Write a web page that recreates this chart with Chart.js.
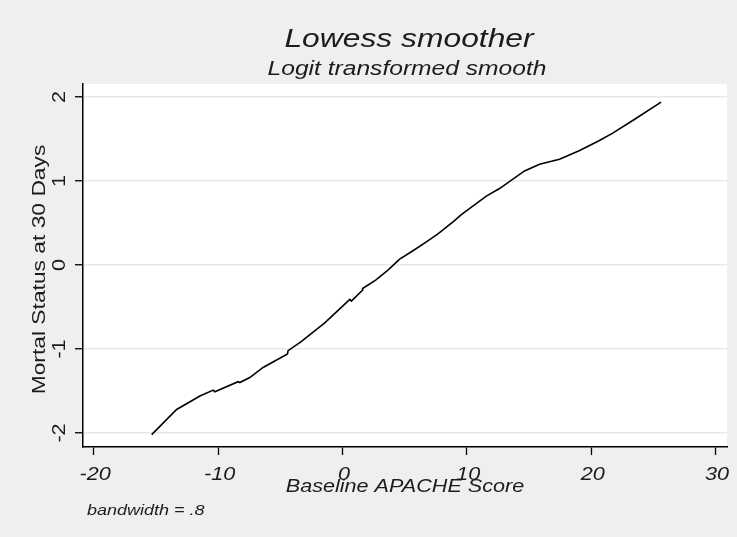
<!DOCTYPE html>
<html>
<head>
<meta charset="utf-8">
<script src="https://cdn.jsdelivr.net/npm/chart.js@4.4.1/dist/chart.umd.min.js"></script>
<style>
  html, body { margin: 0; padding: 0; background: #efefef; }
  #wrap { width: 737px; height: 537px; }
</style>
</head>
<body>
<div id="wrap"><canvas id="myChart" width="737" height="537"></canvas></div>
<script>
// values
const apacheScore = [-15.34, -13.33, -11.46, -10.39, -10.26, -8.39, -8.25, -7.45, -6.38, -4.42, -4.37,
    -3.29, -2.36, -1.42, -0.35, 0.59, 0.72, 1.61, 1.62, 2.67, 3.66, 4.60, 5.67, 6.69, 7.68, 8.94,
    9.56, 11.57, 12.63, 14.64, 15.85, 17.45, 19.03, 20.63, 21.73, 23.34, 25.62];
const mortalLogit = [-2.02, -1.72, -1.56, -1.49, -1.51, -1.39, -1.40, -1.34, -1.22, -1.06, -1.02,
    -0.91, -0.80, -0.69, -0.54, -0.41, -0.43, -0.30, -0.28, -0.18, -0.06, 0.07, 0.17, 0.27, 0.37, 0.52,
    0.60, 0.82, 0.91, 1.12, 1.20, 1.26, 1.36, 1.48, 1.57, 1.72, 1.94];
const xTicks = [-20, -10, 0, 10, 20, 30];
const yTicks = [-2, -1, 0, 1, 2];

const fontFamily = '"Liberation Sans", Arial, sans-serif';
const textColor = '#1c1c1c';
// the original's font is wider than Arial, so text is stretched a bit sideways
const stretch = 1.2;

function wideText(ctx, text, x, y, font, align, angle) {
    ctx.save();
    ctx.translate(x, y);
    if (angle) ctx.rotate(angle);
    ctx.scale(stretch, 1);
    ctx.font = font;
    ctx.fillStyle = textColor;
    ctx.textAlign = align || 'center';
    ctx.textBaseline = 'alphabetic';
    ctx.fillText(text, 0, 0);
    ctx.restore();
}

const stataText = {
    id: 'stataText',
    beforeDraw(chart) {
        const {ctx, chartArea} = chart;
        ctx.save();
        ctx.fillStyle = '#efefef';
        ctx.fillRect(0, 0, chart.width, chart.height);
        ctx.fillStyle = '#ffffff';
        ctx.fillRect(chartArea.left, chartArea.top, chartArea.right - chartArea.left, chartArea.bottom - chartArea.top);
        ctx.restore();
    },
    afterDraw(chart) {
        const {ctx, chartArea} = chart;
        const cx = (chartArea.left + chartArea.right) / 2;

        wideText(ctx, 'Lowess smoother', cx + 4, 47, 'italic 26.5px ' + fontFamily);
        wideText(ctx, 'Logit transformed smooth', cx + 2, 75, 'italic 20.5px ' + fontFamily);

        const xScale = chart.scales.x;
        xScale.ticks.forEach(t => {
            wideText(ctx, String(t.value), xScale.getPixelForValue(t.value) + 1.5, 480, 'italic 18px ' + fontFamily);
        });
        wideText(ctx, 'Baseline APACHE Score', cx, 492, 'italic 18px ' + fontFamily);

        const yScale = chart.scales.y;
        yScale.ticks.forEach(t => {
            wideText(ctx, String(t.value), 65, yScale.getPixelForValue(t.value), '18px ' + fontFamily, 'center', -Math.PI / 2);
        });
        wideText(ctx, 'Mortal Status at 30 Days', 45, (chartArea.top + chartArea.bottom) / 2 + 4, '19px ' + fontFamily, 'center', -Math.PI / 2);

        wideText(ctx, 'bandwidth = .8', 87, 515, 'italic 15px ' + fontFamily, 'left');
    }
};

const ctx = document.getElementById('myChart').getContext('2d');
const myChart = new Chart(ctx, {
    type: 'line',
    data: {
        datasets: [{
            data: apacheScore.map((x, i) => ({x: x, y: mortalLogit[i]})),
            borderColor: '#000',
            borderWidth: 1.6,
            pointRadius: 0,
            fill: false,
            tension: 0
        }]
    },
    options: {
        responsive: false,
        animation: false,
        layout: {
            padding: {top: 84, right: 10, bottom: 0, left: 0}
        },
        plugins: {
            legend: {display: false},
            tooltip: {enabled: false}
        },
        scales: {
            x: {
                type: 'linear',
                min: -20.86,
                max: 30.92,
                afterBuildTicks: s => { s.ticks = xTicks.map(v => ({value: v})); },
                afterFit: s => { s.height = 90; },
                grid: {
                    drawOnChartArea: false,
                    tickLength: 8,
                    tickColor: '#000',
                    tickWidth: 1.3
                },
                border: {color: '#000', width: 1.5},
                ticks: {display: false}
            },
            y: {
                type: 'linear',
                min: -2.167,
                max: 2.155,
                afterBuildTicks: s => { s.ticks = yTicks.map(v => ({value: v})); },
                afterFit: s => { s.width = 83; },
                grid: {
                    color: '#e8e8e8',
                    lineWidth: 1.5,
                    tickLength: 8,
                    tickColor: '#000',
                    tickWidth: 1.3
                },
                border: {color: '#000', width: 1.5},
                ticks: {display: false}
            }
        }
    },
    plugins: [stataText]
});
</script>
</body>
</html>
